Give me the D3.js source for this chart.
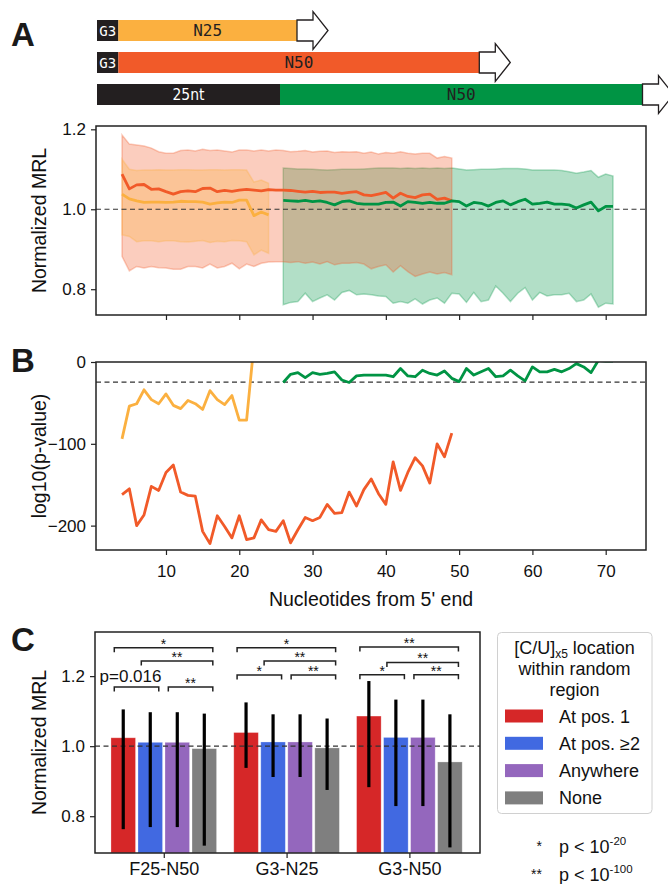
<!DOCTYPE html>
<html><head><meta charset="utf-8">
<script src="https://cdn.jsdelivr.net/npm/d3@7"></script>
<style>
body{margin:0;background:#fff}
svg{display:block}
</style>
</head><body>
<svg id="c" width="668" height="884" font-family="Liberation Sans, Arial, Helvetica, sans-serif"></svg>
<script>
// ---------------- DATA ----------------
const posN25 = [4,5,6,7,8,9,10,11,12,13,14,15,16,17,18,19,20,21,22,23,24];
const posN50 = [4,5,6,7,8,9,10,11,12,13,14,15,16,17,18,19,20,21,22,23,24,25,26,27,28,29,30,31,32,33,34,35,36,37,38,39,40,41,42,43,44,45,46,47,48,49];
const posF25 = [26,27,28,29,30,31,32,33,34,35,36,37,38,39,40,41,42,43,44,45,46,47,48,49,50,51,52,53,54,55,56,57,58,59,60,61,62,63,64,65,66,67,68,69,70,71];

// Panel A: normalized MRL (mean, upper, lower)
const n25Mean  = [1.038,1.026,1.021,1.017,1.018,1.018,1.017,1.018,1.020,1.019,1.019,1.018,1.013,1.016,1.018,1.017,1.023,1.023,0.984,0.993,0.986];
const n25Upper = [1.125,1.100,1.097,1.098,1.098,1.099,1.098,1.098,1.099,1.099,1.098,1.098,1.099,1.099,1.098,1.099,1.099,1.098,1.068,1.073,1.065];
const n25Lower = [0.936,0.932,0.919,0.921,0.921,0.919,0.921,0.921,0.919,0.918,0.920,0.922,0.917,0.920,0.919,0.922,0.921,0.919,0.886,0.898,0.890];

const n50Mean  = [1.088,1.051,1.061,1.062,1.050,1.051,1.044,1.038,1.044,1.046,1.044,1.052,1.053,1.044,1.047,1.045,1.048,1.050,1.048,1.046,1.049,1.048,1.048,1.047,1.045,1.043,1.045,1.042,1.043,1.043,1.040,1.042,1.044,1.036,1.034,1.038,1.042,1.028,1.040,1.032,1.029,1.036,1.038,1.025,1.028,1.021];
const n50Upper = [1.186,1.163,1.161,1.158,1.153,1.144,1.140,1.140,1.147,1.148,1.146,1.150,1.147,1.148,1.146,1.143,1.148,1.148,1.146,1.148,1.146,1.148,1.147,1.144,1.145,1.147,1.143,1.145,1.146,1.142,1.144,1.143,1.144,1.140,1.143,1.138,1.142,1.140,1.144,1.140,1.138,1.140,1.140,1.128,1.132,1.128];
const n50Lower = [0.882,0.846,0.857,0.853,0.857,0.854,0.853,0.850,0.850,0.857,0.857,0.853,0.863,0.853,0.857,0.865,0.851,0.863,0.857,0.865,0.868,0.869,0.869,0.867,0.869,0.865,0.868,0.863,0.869,0.861,0.865,0.865,0.867,0.863,0.851,0.857,0.861,0.843,0.859,0.844,0.832,0.838,0.843,0.838,0.842,0.836];

const f25Mean  = [1.022,1.021,1.020,1.022,1.019,1.021,1.017,1.011,1.019,1.021,1.015,1.013,1.013,1.013,1.017,1.018,1.008,1.019,1.017,1.015,1.017,1.015,1.015,1.021,1.019,1.008,1.017,1.015,1.008,1.017,1.021,1.011,1.019,1.025,1.013,1.015,1.018,1.013,1.013,1.011,1.003,1.011,1.018,0.996,1.007,1.007];
const f25Upper = [1.103,1.102,1.101,1.101,1.100,1.099,1.098,1.099,1.100,1.100,1.100,1.101,1.102,1.103,1.103,1.103,1.102,1.103,1.102,1.103,1.102,1.103,1.102,1.103,1.101,1.098,1.099,1.100,1.100,1.101,1.102,1.102,1.102,1.101,1.098,1.098,1.098,1.098,1.097,1.094,1.090,1.093,1.097,1.080,1.088,1.083];
const f25Lower = [0.761,0.767,0.769,0.790,0.769,0.778,0.786,0.773,0.792,0.797,0.786,0.788,0.786,0.783,0.782,0.765,0.769,0.765,0.776,0.763,0.773,0.778,0.765,0.790,0.788,0.767,0.792,0.769,0.773,0.808,0.790,0.769,0.790,0.804,0.773,0.792,0.783,0.786,0.786,0.790,0.769,0.773,0.788,0.755,0.765,0.763];

// Panel B: log10(p-value)
const n25LogP = [-94,-54,-51,-34,-46,-51,-39,-53,-57,-47,-51,-58,-35,-46,-52,-41,-71,-71,21,18,14];
const n50LogP = [-162,-155,-200,-187,-152,-157,-135,-126,-159,-163,-164,-207,-222,-188,-201,-215,-188,-217,-215,-193,-205,-207,-194,-221,-205,-190,-194,-190,-174,-185,-184,-159,-176,-156,-143,-161,-174,-122,-157,-135,-117,-127,-148,-100,-116,-87];
const f25LogP = [-25,-15,-13,-19,-13,-15,-14,-12,-22,-25,-17,-16,-16,-16,-16,-18,-8,-17,-18,-10,-14,-16,-11,-20,-24,-8,-16,-12,-8,-18,-17,-10,-17,-23,-6,-12,-12,-9,-12,-8,-2,-6,-13,2,1,1];
const pThreshold = -24.7;

const xTicks = [10,20,30,40,50,60,70];
const yTicksA = [0.8,1.0,1.2];
const yTicksB = [-200,-100,0];

// Panel C
const groups = ["F25-N50","G3-N25","G3-N50"];
const locations = ["At pos. 1","At pos. \u22652","Anywhere","None"];
const barMeans = [[1.024,1.011,1.011,0.993],[1.039,1.012,1.012,0.995],[1.086,1.025,1.025,0.955]];
const errHigh  = [[1.105,1.097,1.097,1.093],[1.125,1.091,1.091,1.079],[1.186,1.133,1.133,1.091]];
const errLow   = [[0.763,0.769,0.769,0.716],[0.938,0.912,0.912,0.875],[0.883,0.829,0.829,0.711]];
const yTicksC = [0.8,1.0,1.2];
// significance brackets: [group, barFrom, barTo, label, level]
const brackets = [
  [0,0,3,"*",1.281],[0,1,3,"**",1.243],[0,0,1,"p=0.016",1.169],[0,2,3,"**",1.169],
  [1,0,3,"*",1.281],[1,1,3,"**",1.243],[1,0,1,"*",1.203],[1,2,3,"**",1.203],
  [2,0,3,"**",1.283],[2,1,3,"**",1.239],[2,0,1,"*",1.204],[2,2,3,"**",1.204]
];

// ---------------- DRAW ----------------
const svg = d3.select("#c");
const cYel = "#FBB040", cOra = "#F15A29", cGrn = "#009444";
const TICKF = 17, TITLEF = 19.5;
const SANS = "Liberation Sans, Arial, Helvetica, sans-serif";

function styleAxis(g){
  g.select(".domain").remove();
  g.selectAll(".tick line").attr("stroke","#222").attr("stroke-width",1.2);
  g.selectAll(".tick text").attr("font-size",TICKF).attr("fill","#111").attr("font-family",SANS);
}
function frame(x0,y0,x1,y1){
  svg.append("rect").attr("x",x0).attr("y",y0).attr("width",x1-x0).attr("height",y1-y0)
    .attr("fill","none").attr("stroke","#222").attr("stroke-width",1.5);
}
function txt(sel){ return sel.append("text").attr("fill","#111").attr("font-family",SANS); }

// ---- Schematic (top of A) ----
const sch = svg.append("g");
function arrow(xs, yt, yb){
  const ym=(yt+yb)/2;
  const pts=[[xs,yt],[xs+16,yt],[xs+16,yt-8.5],[xs+31,ym],[xs+16,yb+8.5],[xs+16,yb],[xs,yb]];
  sch.append("path").attr("d","M"+pts.map(p=>p.join(",")).join("L")+"Z")
    .attr("fill","#fff").attr("stroke","#231f20").attr("stroke-width",1.3);
}
function seg(x0,x1,yt,yb,fill,label,tcol,font,fs){
  sch.append("rect").attr("x",x0).attr("y",yt).attr("width",x1-x0).attr("height",yb-yt).attr("fill",fill);
  sch.append("text").attr("x",(x0+x1)/2).attr("y",(yt+yb)/2).attr("dy","0.36em")
    .attr("text-anchor","middle").attr("font-family",font).attr("font-size",fs)
    .attr("fill",tcol).text(label);
}
const MONO="DejaVu Sans Mono, monospace";
// row 1
seg(97,118.4,20,41,"#231f20","G3","#fff",MONO,14);
seg(118.4,297,20,41,cYel,"N25","#231f20",MONO,16);
arrow(297,20,41);
// row 2
seg(97,118.4,52,73,"#231f20","G3","#fff",MONO,14);
seg(118.4,479.3,52,73,cOra,"N50","#231f20",MONO,16);
arrow(479.3,52,73);
// row 3
seg(97,280,84,105,"#231f20","25nt","#fff","DejaVu Sans Condensed, DejaVu Sans, sans-serif",15.5);
seg(280,642.5,84,105,cGrn,"N50","#231f20",MONO,16);
arrow(642.5,84,105);

// ---- Panel A ----
const xA = d3.scaleLinear().domain([0.45,75.5]).range([96,646]);
const yA = d3.scaleLinear().domain([0.7355,1.2083]).range([315,126]);
const defs = svg.append("defs");
defs.append("clipPath").attr("id","clipA").append("rect")
  .attr("x",96).attr("y",126).attr("width",550).attr("height",189);
const gA = svg.append("g").attr("clip-path","url(#clipA)");
function band(pos,lo,hi,col){
  const area = d3.area().x((d,i)=>xA(pos[i])).y0((d,i)=>yA(lo[i])).y1((d,i)=>yA(hi[i]));
  gA.append("path").attr("d",area(pos)).attr("fill",col).attr("fill-opacity",0.3)
    .attr("stroke",col).attr("stroke-opacity",0.3).attr("stroke-width",1.5);
}
band(posF25,f25Lower,f25Upper,cGrn);
band(posN50,n50Lower,n50Upper,cOra);
band(posN25,n25Lower,n25Upper,cYel);
gA.append("line").attr("x1",96).attr("x2",646).attr("y1",yA(1)).attr("y2",yA(1))
  .attr("stroke","#333").attr("stroke-width",1.2).attr("stroke-dasharray","5,3.5");
function lineA(pos,vals,col){
  const l = d3.line().x((d,i)=>xA(pos[i])).y(d=>yA(d));
  gA.append("path").attr("d",l(vals)).attr("fill","none").attr("stroke",col)
    .attr("stroke-width",2.8).attr("stroke-linejoin","round");
}
lineA(posN25,n25Mean,cYel);
lineA(posN50,n50Mean,cOra);
lineA(posF25,f25Mean,cGrn);
svg.append("g").attr("transform","translate(96,0)")
  .call(d3.axisLeft(yA).tickValues(yTicksA).tickFormat(d3.format(".1f")).tickSize(5).tickPadding(5)).call(styleAxis);
svg.append("g").attr("transform","translate(0,315)")
  .call(d3.axisBottom(xA).tickValues(xTicks).tickFormat("").tickSize(5)).call(styleAxis);
frame(96,126,646,315);
txt(svg).attr("transform","translate(46,"+((126+315)/2)+") rotate(-90)")
  .attr("text-anchor","middle").attr("font-size",TITLEF).text("Normalized MRL");

// ---- Panel B ----
const yB = d3.scaleLinear().domain([-229.8,0]).range([550,362]);
defs.append("clipPath").attr("id","clipB").append("rect")
  .attr("x",96).attr("y",362).attr("width",550).attr("height",188);
const gB = svg.append("g").attr("clip-path","url(#clipB)");
gB.append("line").attr("x1",96).attr("x2",646).attr("y1",yB(pThreshold)).attr("y2",yB(pThreshold))
  .attr("stroke","#333").attr("stroke-width",1.2).attr("stroke-dasharray","5,3.5");
function lineB(pos,vals,col){
  const l = d3.line().x((d,i)=>xA(pos[i])).y(d=>yB(d));
  gB.append("path").attr("d",l(vals)).attr("fill","none").attr("stroke",col)
    .attr("stroke-width",2.8).attr("stroke-linejoin","round");
}
lineB(posN25,n25LogP,cYel);
lineB(posN50,n50LogP,cOra);
lineB(posF25,f25LogP,cGrn);
svg.append("g").attr("transform","translate(96,0)")
  .call(d3.axisLeft(yB).tickValues(yTicksB).tickFormat(d3.format("d")).tickSize(5).tickPadding(5)).call(styleAxis);
svg.append("g").attr("transform","translate(0,550)")
  .call(d3.axisBottom(xA).tickValues(xTicks).tickFormat(d3.format("d")).tickSize(5).tickPadding(10)).call(styleAxis);
frame(96,362,646,550);
txt(svg).attr("transform","translate(46,"+((362+550)/2)+") rotate(-90)")
  .attr("text-anchor","middle").attr("font-size",TITLEF).text("log10(p-value)");
txt(svg).attr("x",371).attr("y",606).attr("text-anchor","middle")
  .attr("font-size",TITLEF).text("Nucleotides from 5' end");

// ---- Panel C ----
const xC = d3.scaleLinear().domain([-0.56,2.575]).range([95,480]);
const yC = d3.scaleLinear().domain([0.695,1.326]).range([853,632]);
const barCols = ["#D62728","#4169E1","#9467BD","#7F7F7F"];
const offs = [-0.33,-0.11,0.11,0.33], bw = 0.2;
defs.append("clipPath").attr("id","clipC").append("rect")
  .attr("x",95).attr("y",632).attr("width",385).attr("height",221);
const gC = svg.append("g").attr("clip-path","url(#clipC)");
groups.forEach((g,gi)=>{
  barMeans[gi].forEach((v,bi)=>{
    const xc = gi+offs[bi];
    gC.append("rect").attr("x",xC(xc-bw/2)).attr("width",xC(xc+bw/2)-xC(xc-bw/2))
      .attr("y",yC(v)).attr("height",yC(0.695)-yC(v)).attr("fill",barCols[bi])
      .attr("stroke","#fff").attr("stroke-opacity",0.35).attr("stroke-width",0.8);
  });
});
gC.append("line").attr("x1",95).attr("x2",480).attr("y1",yC(1)).attr("y2",yC(1))
  .attr("stroke","#333").attr("stroke-width",1.2).attr("stroke-dasharray","5,3.5");
groups.forEach((g,gi)=>{
  barMeans[gi].forEach((v,bi)=>{
    const xc = xC(gi+offs[bi]);
    gC.append("line").attr("x1",xc).attr("x2",xc).attr("y1",yC(errLow[gi][bi])).attr("y2",yC(errHigh[gi][bi]))
      .attr("stroke","#000").attr("stroke-width",3.2);
  });
});
// brackets
const bpad = 0.073, tickDrop = 4.5;
brackets.forEach(([gi,a,b,lab,lev])=>{
  const x1 = xC(gi+offs[a]-bpad), x2 = xC(gi+offs[b]+bpad*0.95), y = yC(lev);
  svg.append("path").attr("d",`M${x1},${y+tickDrop}L${x1},${y}L${x2},${y}L${x2},${y+tickDrop}`)
    .attr("fill","none").attr("stroke","#222").attr("stroke-width",1.5);
  if(lab.startsWith("p")){
    txt(svg).attr("x",(x1+x2)/2-6).attr("y",y-4.5).attr("text-anchor","middle")
      .attr("font-size",17).text(lab);
  } else {
    txt(svg).attr("x",(x1+x2)/2).attr("y",y+1).attr("text-anchor","middle")
      .attr("font-size",14).text(lab);
  }
});
svg.append("g").attr("transform","translate(95,0)")
  .call(d3.axisLeft(yC).tickValues(yTicksC).tickFormat(d3.format(".1f")).tickSize(5).tickPadding(5)).call(styleAxis);
svg.append("g").attr("transform","translate(0,853)")
  .call(d3.axisBottom(xC).tickValues([0,1,2]).tickFormat((d,i)=>groups[i]).tickSize(5).tickPadding(4)).call(styleAxis)
  .selectAll(".tick text").attr("font-size",18);
frame(95,632,480,853);
txt(svg).attr("transform","translate(46,"+((632+853)/2)+") rotate(-90)")
  .attr("text-anchor","middle").attr("font-size",TITLEF).text("Normalized MRL");

// legend
const lg = svg.append("g");
lg.append("rect").attr("x",497.5).attr("y",632.5).attr("width",154.5).attr("height",181).attr("rx",4)
  .attr("fill","#fff").attr("stroke","#d0d0d0").attr("stroke-width",1);
const t1 = txt(lg).attr("x",574.5).attr("y",653.5).attr("text-anchor","middle").attr("font-size",18);
t1.append("tspan").text("[C/U]");
t1.append("tspan").attr("font-size",12).attr("dy",4).text("x5");
t1.append("tspan").attr("dy",-4).text(" location");
txt(lg).attr("x",574.5).attr("y",675).attr("text-anchor","middle").attr("font-size",18).text("within random");
txt(lg).attr("x",574.5).attr("y",695.5).attr("text-anchor","middle").attr("font-size",18).text("region");
const legY = [716,743.3,770.6,797.9];
locations.forEach((l,i)=>{
  lg.append("rect").attr("x",505).attr("y",legY[i]-6.5).attr("width",38).attr("height",13).attr("fill",barCols[i]);
  txt(lg).attr("x",559).attr("y",legY[i]+6.5).attr("font-size",18).text(l);
});
// p-value notes
const notes = [["*","-20",847],["**","-100",875]];
notes.forEach(([s,e,y])=>{
  txt(svg).attr("x",542).attr("y",y+4).attr("text-anchor","end").attr("font-size",14).text(s);
  const t = txt(svg).attr("x",559).attr("y",y+6).attr("font-size",18);
  t.append("tspan").text("p < 10");
  t.append("tspan").attr("font-size",11.5).attr("dy",-8).text(e);
});

// panel letters
[["A",46],["B",372],["C",651]].forEach(([l,y])=>{
  txt(svg).attr("x",11).attr("y",y).attr("font-size",33).attr("font-weight","bold")
    .attr("fill","#1a1a1a").text(l);
});
</script>
</body></html>
